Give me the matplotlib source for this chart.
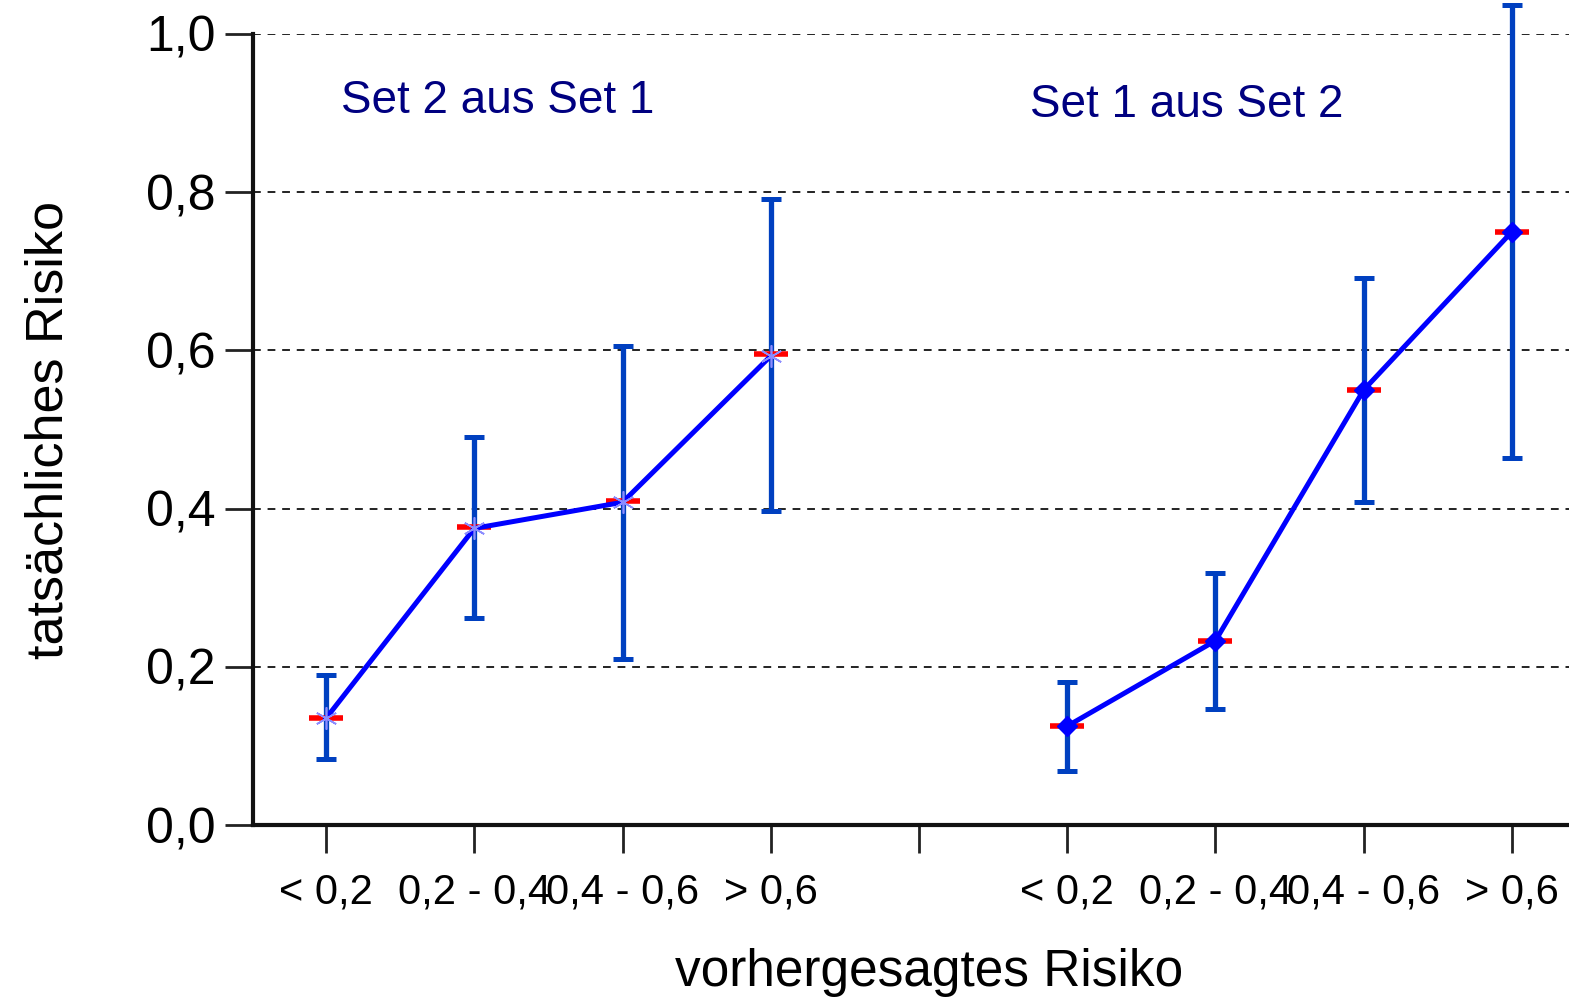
import matplotlib
matplotlib.use("Agg")
import matplotlib.pyplot as plt
import numpy as np

# 基本配置
plt.rcParams["font.family"] = ["Liberation Sans", "DejaVu Sans"]

# 数据
x_left = [1, 2, 3, 4]
x_right = [6, 7, 8, 9]
y_left = [0.135, 0.375, 0.408, 0.593]
lo_left = [0.083, 0.262, 0.210, 0.397]
hi_left = [0.190, 0.490, 0.605, 0.791]
y_right = [0.125, 0.233, 0.550, 0.750]
lo_right = [0.068, 0.147, 0.408, 0.464]
hi_right = [0.181, 0.319, 0.692, 1.037]
# 红色横线（预测值）
red_left = [0.135, 0.377, 0.409, 0.595]
red_right = [0.125, 0.232, 0.550, 0.750]

tick_pos = [1, 2, 3, 4, 5, 6, 7, 8, 9]
tick_labels = ["< 0,2", "0,2 - 0,4", "0,4 - 0,6", "> 0,6", "",
               "< 0,2", "0,2 - 0,4", "0,4 - 0,6", "> 0,6"]
y_ticks = [0.0, 0.2, 0.4, 0.6, 0.8, 1.0]
y_ticklabels = ["0,0", "0,2", "0,4", "0,6", "0,8", "1,0"]

W, H = 1569, 998
fig = plt.figure(figsize=(W / 100, H / 100), dpi=100)
ax = fig.add_axes([253 / W, (H - 825) / H, (W - 253) / W, (825 - 34) / H])

err_color = "#0040c0"
line_color = "#0000ff"

for xs, ys, lo, hi, red in [
    (x_left, y_left, lo_left, hi_left, red_left),
    (x_right, y_right, lo_right, hi_right, red_right),
]:
    ys = np.array(ys)
    yerr = [ys - np.array(lo), np.array(hi) - ys]
    eb = ax.errorbar(xs, ys, yerr=yerr, fmt="none", ecolor=err_color,
                     elinewidth=3.8, capsize=7, capthick=3.6, zorder=3)
    for art in eb.lines[1]:
        art.set_clip_on(False)
    for art in eb.lines[2]:
        art.set_clip_on(False)
    ax.plot(xs, red, linestyle="none", marker="_", markersize=25,
            markeredgewidth=4, color="#ff0000", zorder=4, clip_on=False)
    ax.plot(xs, ys, color=line_color, linewidth=3.6, zorder=5, clip_on=False)

# 标记
ax.plot(x_left, y_left, linestyle="none", marker=(6, 2, 0), markersize=16,
        markeredgewidth=1.2, color="#8c8cff", zorder=6)
ax.plot(x_right, y_right, linestyle="none", marker="D", markersize=10,
        color=line_color, zorder=6, clip_on=False)

ax.set_xlim(0.507, 9.385)
ax.set_ylim(0, 1.0)
ax.set_xticks(tick_pos)
ax.set_xticklabels(tick_labels, fontsize=30)
ax.set_yticks(y_ticks)
ax.set_yticklabels(y_ticklabels, fontsize=36)
ax.tick_params(axis="both", direction="out", length=20, width=2, color="#222222")
ax.tick_params(axis="x", pad=14)
ax.tick_params(axis="y", pad=7)

# 网格线
for yv in y_ticks[1:]:
    ax.axhline(yv, color="#222222", linewidth=1.4, linestyle=(0, (4, 3.5)), zorder=1)

for side in ["top", "right"]:
    ax.spines[side].set_visible(False)
for side in ["left", "bottom"]:
    ax.spines[side].set_linewidth(3)
    ax.spines[side].set_color("#111111")

ax.set_xlabel("vorhergesagtes Risiko", fontsize=37, labelpad=26)
ax.xaxis.set_label_coords(0.514, -0.155)
ax.set_ylabel("tatsächliches Risiko", fontsize=37.5, labelpad=52)

ax.text(1.1, 0.915, "Set 2 aus Set 1", fontsize=33, color="#000080",
        ha="left", va="center")
ax.text(5.75, 0.91, "Set 1 aus Set 2", fontsize=33, color="#000080",
        ha="left", va="center")

fig.savefig("out.png", dpi=100)
